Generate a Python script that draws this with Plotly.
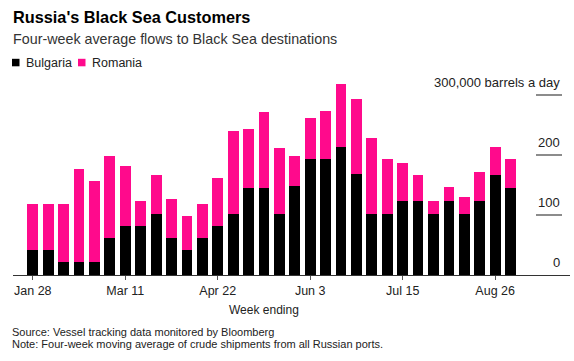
import plotly.graph_objects as go
import pandas as pd

weeks = pd.date_range("2018-01-28", periods=32, freq="7D").strftime("%Y-%m-%d").tolist()
bulgaria = [41, 41, 21, 21, 21, 62, 82, 82, 102, 62, 41, 62, 82, 102, 145, 145,
            102, 148, 193, 193, 214, 169, 102, 102, 124, 124, 102, 124, 102, 124, 166, 145]
total = [119, 119, 119, 177, 157, 199, 181, 124, 166, 126, 99, 119, 161, 240, 244, 271,
         211, 199, 262, 274, 318, 293, 229, 193, 187, 166, 124, 146, 130, 172, 214, 193]
romania = [t - b for t, b in zip(total, bulgaria)]

tick_dates = ["2018-01-28", "2018-03-11", "2018-04-22", "2018-06-03", "2018-07-15", "2018-08-26"]
y_ticks = [0, 100, 200, 300]
y_labels = ["0", "100", "200", "300,000 barrels a day"]

BLACK = "#000000"
PINK = "#FF0A8C"
FONT = "Liberation Sans, Arial, sans-serif"

W, H = 574, 361
M_L, M_R, M_T, M_B = 13, 4, 80, 86
PH = H - M_T - M_B
PW = W - M_L - M_R


def py(pix):
    return (H - M_B - pix) / PH


def px(pix):
    return (pix - M_L) / PW


fig = go.Figure()
fig.add_trace(go.Bar(x=weeks, y=bulgaria, name="Bulgaria", marker=dict(color=BLACK, line_width=0)))
fig.add_trace(go.Bar(x=weeks, y=romania, name="Romania", marker=dict(color=PINK, line_width=0)))

for v, lab in zip(y_ticks, y_labels):
    fig.add_annotation(x=px(562), xref="paper", xanchor="right", y=v, yref="y", yanchor="bottom",
                       text=lab, showarrow=False, font=dict(size=13, color="#222", family=FONT),
                       yshift=3)
    if v > 0:
        fig.add_shape(type="line", xref="paper", yref="y", x0=px(536), x1=px(562), y0=v, y1=v,
                      line=dict(color="#666", width=1.5))

# manual legend
for name, color, sx, tx in [("Bulgaria", BLACK, 12, 24), ("Romania", PINK, 78, 90)]:
    fig.add_shape(type="rect", xref="paper", yref="paper", x0=px(sx), x1=px(sx + 7.5),
                  y0=py(66.3), y1=py(58.8), fillcolor=color, line_width=0, layer="above")
    fig.add_annotation(x=px(tx), xref="paper", y=py(62.5), yref="paper", xanchor="left",
                       yanchor="middle", text=name, showarrow=False,
                       font=dict(size=12.5, color="#222", family=FONT))

fig.add_annotation(x=px(11), xref="paper", y=py(17), yref="paper", xanchor="left", yanchor="middle",
                   text="<b>Russia's Black Sea Customers</b>", showarrow=False,
                   font=dict(size=16.3, color="#000", family=FONT))
fig.add_annotation(xref="paper", yref="paper", x=px(11), y=py(39), xanchor="left", yanchor="middle",
                   text="Four-week average flows to Black Sea destinations", showarrow=False,
                   font=dict(size=14.3, color="#333", family=FONT))
fig.add_annotation(xref="paper", yref="paper", x=px(264), y=py(309.5), xanchor="center", yanchor="middle",
                   text="Week ending", showarrow=False,
                   font=dict(size=12, color="#222", family=FONT))
fig.add_annotation(xref="paper", yref="paper", x=px(10), y=py(332), xanchor="left", yanchor="middle",
                   text="Source: Vessel tracking data monitored by Bloomberg",
                   showarrow=False, align="left", font=dict(size=11, color="#222", family=FONT))
fig.add_annotation(xref="paper", yref="paper", x=px(10), y=py(344), xanchor="left", yanchor="middle",
                   text="Note: Four-week moving average of crude shipments from all Russian ports.",
                   showarrow=False, align="left", font=dict(size=11, color="#222", family=FONT))

fig.update_layout(
    barmode="stack",
    bargap=0.3,
    width=W, height=H,
    margin=dict(l=M_L, r=M_R, t=M_T, b=M_B, autoexpand=False),
    paper_bgcolor="white", plot_bgcolor="white",
    font=dict(family=FONT, size=12, color="#222"),
    showlegend=False,
    xaxis=dict(type="date", range=["2018-01-19", "2018-09-29"], tickvals=tick_dates,
               tickformat="%b %-d", ticks="outside", ticklen=4, tickcolor="#555",
               showline=True, linecolor="#333", linewidth=1, showgrid=False,
               tickfont=dict(size=12.5, color="#222"), automargin=False),
    yaxis=dict(range=[0, 325], showticklabels=False, showgrid=False, zeroline=False, ticks="",
               automargin=False),
)

fig.write_html("out.html", config={"displayModeBar": False},
               post_script="document.body.style.margin='0';")
